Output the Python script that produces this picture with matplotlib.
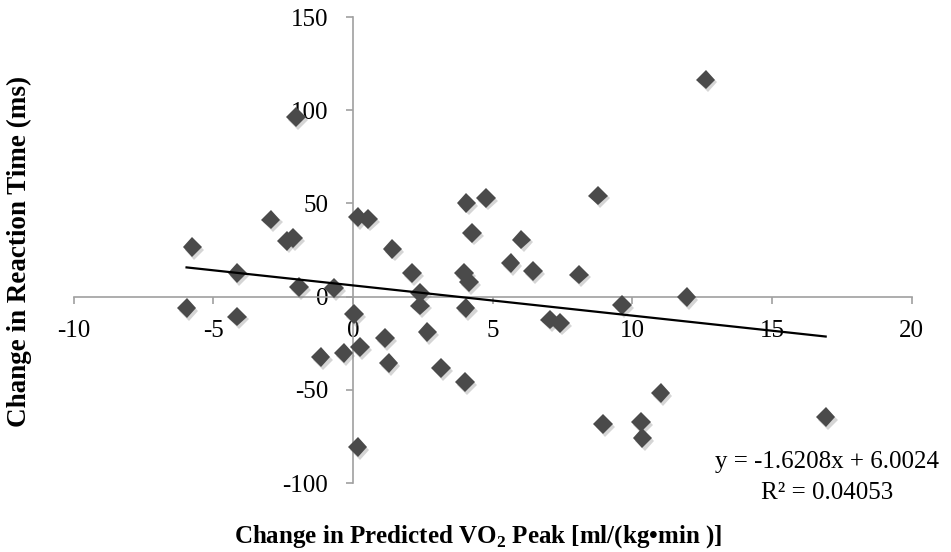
import numpy as np
import matplotlib
matplotlib.use("Agg")
import matplotlib.pyplot as plt
import matplotlib.patheffects as pe

plt.rcParams['font.family'] = ['Liberation Serif', 'DejaVu Serif']
plt.rcParams['axes.unicode_minus'] = False
plt.rcParams['mathtext.fontset'] = 'custom'
plt.rcParams['mathtext.rm'] = 'Liberation Serif'
plt.rcParams['mathtext.bf'] = 'Liberation Serif:bold'

# change in predicted VO2 peak (x) vs change in reaction time (y)
vo2_change = [-5.75, -5.96, -4.14, -4.16, -2.95, -2.38, -2.15, -2.05, -1.93, -0.68,
              -1.16, -0.34, 0.04, 0.16, 0.54, 0.25, 0.16, 1.15, 1.27, 1.41,
              2.10, 2.40, 2.40, 2.66, 3.16, 4.00, 4.03, 3.97, 4.15, 4.25,
              4.06, 4.75, 5.64, 6.03, 6.44, 7.05, 7.41, 8.09, 8.78, 8.96,
              9.64, 10.30, 10.36, 11.01, 11.94, 12.62, 16.92]
rt_change = [26.5, -6.1, 12.5, -10.7, 41.3, 30.0, 31.3, 96.2, 5.0, 4.5,
             -32.5, -30.4, -9.3, 42.6, 41.7, -27.2, -80.8, -22.3, -35.7, 25.6,
             12.5, 2.0, -4.8, -19.1, -38.4, -45.9, -6.1, 12.7, 7.7, 34.2,
             50.3, 53.0, 17.9, 30.6, 13.6, -12.3, -14.1, 11.8, 54.2, -68.3,
             -4.5, -67.4, -76.0, -51.7, -0.3, 116.4, -64.7]

# linear trendline as reported
slope = -1.6208
intercept = 6.0024
r_squared = 0.04053

W, H = 951, 552
fig = plt.figure(figsize=(W / 100, H / 100), dpi=100)
ax = fig.add_axes([73.7 / W, 1 - 483 / H, (911.7 - 73.7) / W, (483 - 17) / H])

ax.plot(vo2_change, rt_change, linestyle='none', marker='D', markersize=10,
        color='#4a4a4a', markeredgewidth=0,
        path_effects=[pe.SimplePatchShadow(offset=(1.5, -2), shadow_rgbFace='#888888', alpha=0.35),
                      pe.Normal()], zorder=3)

xs = np.array([min(vo2_change), max(vo2_change)])
ax.plot(xs, slope * xs + intercept, color='black', linewidth=1.6, zorder=4)

ax.set_xlim(-10, 20)
ax.set_ylim(-100, 150)
ax.set_xticks(np.arange(-10, 21, 5))
ax.set_yticks(np.arange(-100, 151, 50))

ax.spines['left'].set_position(('data', 0))
ax.spines['bottom'].set_position(('data', 0))
ax.spines['top'].set_visible(False)
ax.spines['right'].set_visible(False)
for s in ['left', 'bottom']:
    ax.spines[s].set_color('#a0a0a0')
    ax.spines[s].set_linewidth(1.2)

ax.tick_params(axis='both', direction='out', length=5, width=1.2, color='#a0a0a0',
               labelsize=18)
ax.tick_params(axis='x', pad=12)
ax.tick_params(axis='y', pad=13)

fig.text(827 / W, 1 - 462 / H, 'y = -1.6208x + 6.0024', fontsize=18,
         ha='center', va='center')
fig.text(827 / W, 1 - 493 / H, 'R² = 0.04053', fontsize=18,
         ha='center', va='center')

fig.text(478 / W, 1 - 537 / H, 'Change in Predicted VO$_\\mathbf{2}$ Peak [ml/(kg•min )]',
         fontsize=18, fontweight='bold', ha='center', va='center')
fig.text(19 / W, 1 - 251 / H, 'Change in Reaction Time (ms)', fontsize=19.5,
         fontweight='bold', ha='center', va='center', rotation=90)

fig.savefig('out.png', dpi=100)
